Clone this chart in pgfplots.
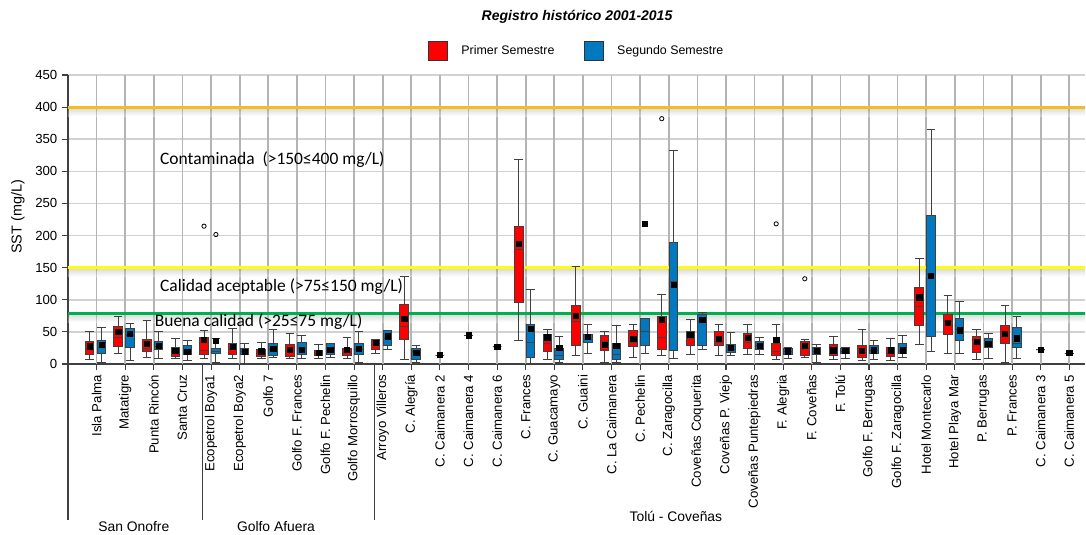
\documentclass[border=0pt]{standalone}
\usepackage{fontspec}
\setmainfont{Liberation Sans}
\newfontfamily\calibri{Carlito}
\usepackage{pgfplots}
\usepgfplotslibrary{statistics}
\pgfplotsset{compat=1.18}
\definecolor{cRed}{HTML}{FF0000}
\definecolor{cBlue}{HTML}{0079C1}
\definecolor{cOrange}{HTML}{F4BC1C}
\definecolor{cYellow}{HTML}{FFFF00}
\definecolor{cGreen}{HTML}{00B050}
\definecolor{cGrid}{HTML}{D2D2D2}
\definecolor{cVGrid}{HTML}{B4B4B4}

% pos, lower whisker, lower quartile, median, upper quartile, upper whisker, mean, colour
\newcommand{\bx}[8]{%
  \addplot[boxplot prepared={draw position=#1, lower whisker=#2, lower quartile=#3,
      median=#4, upper quartile=#5, upper whisker=#6, box extend=0.3, whisker extend=0.3},
    fill=#8, draw=black!75, line width=0.75pt, solid] coordinates {};
  \addplot[only marks, mark=square*, mark size=2pt, black] coordinates {(#1,#7)};
}
\newcommand{\fs}[1]{\fontsize{#1}{#1}\selectfont}

\begin{document}
\begin{tikzpicture}
\useasboundingbox (-51pt,-128.25pt) rectangle (763.5pt,273pt);
\begin{axis}[
  at={(0,0)}, anchor=south west,
  width=762.75pt, height=216.75pt, scale only axis,
  boxplot/draw direction=y,
  xmin=-1, xmax=34.55, ymin=0, ymax=450,
  ytick={0,50,...,450},
  xtick={0,...,34},
  xticklabels={Isla Palma, Matatigre, Punta Rincón, Santa Cruz,
    Ecopetrol Boya1, Ecopetrol Boya2, Golfo 7, Golfo F. Frances, Golfo F. Pechelin, Golfo Morrosquillo,
    Arroyo Villeros, C. Alegría, C. Caimanera 2, C. Caimanera 4, C. Caimanera 6, C. Frances,
    C. Guacamayo, C. Guaini, C. La Caimanera, C. Pechelin, C. Zaragocilla, Coveñas Coquerita,
    Coveñas P. Viejo, Coveñas Puntepiedras, F. Alegria, F. Coveñas, F. Tolú, Golfo F. Berrugas,
    Golfo F. Zaragocilla, Hotel Montecarlo, Hotel Playa Mar, P. Berrugas, P. Frances,
    C. Caimanera 3, C. Caimanera 5},
  x tick label style={rotate=90, anchor=east, font=\fs{9.9}},
  y tick label style={font=\fs{9.9}},
  /pgf/number format/assume math mode=true,
  ymajorgrids, grid style={cGrid, line width=1.1pt},
  axis x line*=bottom, axis y line*=left,
  axis line style={black!75, line width=1pt},
  tick style={black!75, line width=0.8pt},
  tick align=outside, major tick length=4.5pt,
  clip=false,
  legend columns=2,
  legend style={at={(axis description cs:0.5005,1.083)}, anchor=center, draw=none,
    fill=none, font=\fs{9.3},
    /tikz/every odd column/.append style={column sep=8pt},
    /tikz/every even column/.append style={column sep=20pt}},
]
\addlegendimage{legend image code/.code={\draw[fill=cRed, draw=black!80, line width=0.8pt] (0pt,-7.3pt) rectangle (14.3pt,7.3pt);}}
\addlegendimage{legend image code/.code={\draw[fill=cBlue, draw=black!80, line width=0.8pt] (0pt,-7.3pt) rectangle (14.3pt,7.3pt);}}
\legend{Primer Semestre, Segundo Semestre}

% vertical grid at every station, behind everything else
\pgfplotsinvokeforeach{0,...,34}{\draw[cVGrid, line width=1.3pt] (axis cs:#1,0) -- (axis cs:#1,450);}

% shadows under the reference lines
\shade[top color=black!45, bottom color=white, opacity=0.35] (axis cs:-1,400) rectangle (axis cs:34.55,386);
\shade[top color=black!45, bottom color=white, opacity=0.35] (axis cs:-1,150) rectangle (axis cs:34.55,136);
\shade[top color=black!45, bottom color=white, opacity=0.35] (axis cs:-1,79) rectangle (axis cs:34.55,65);
\addplot[cOrange, line width=2.3pt] coordinates {(-1,400) (34.55,400)};
\addplot[cYellow, line width=2.3pt] coordinates {(-1,150) (34.55,150)};
\addplot[cGreen, line width=2.3pt] coordinates {(-1,79) (34.55,79)};

\node[anchor=west, inner sep=0pt, font=\calibri\fs{13.1}] at (axis cs:2.21,318) {Contaminada\ \ (>150≤400 mg/L)};
\node[anchor=west, inner sep=0pt, font=\calibri\fs{13.1}] at (axis cs:2.21,120) {Calidad aceptable (>75≤150 mg/L)};
\node[anchor=west, inner sep=0pt, font=\calibri\fs{13.1}] at (axis cs:2.03,66) {Buena calidad (>25≤75 mg/L)};

% San Onofre
\bx{-0.245}{7.7}{14.5}{24}{35.2}{50.7}{27.4}{cRed}
\bx{0.17}{3}{16}{25}{36.8}{57}{30}{cBlue}
\bx{0.755}{17}{27.4}{42}{58.5}{73.3}{50.7}{cRed}
\bx{1.17}{5.1}{26.4}{45}{55.5}{63.8}{47.2}{cBlue}
\bx{1.755}{10.8}{19}{24.8}{38.8}{67.3}{31.6}{cRed}
\bx{2.17}{8.3}{22.3}{28}{35.2}{50.7}{28.5}{cBlue}
\bx{2.755}{8.3}{11.9}{17}{26.4}{40.4}{20.7}{cRed}
\bx{3.17}{5.1}{14.5}{20}{28.5}{36.3}{19}{cBlue}
% Golfo Afuera
\bx{3.755}{8.3}{14.5}{20.7}{42}{52.3}{37.8}{cRed}
\bx{4.17}{3}{16}{20}{24.3}{40.4}{36.3}{cBlue}
\bx{4.755}{8.3}{14.5}{22}{31.6}{56}{26.4}{cRed}
\bx{5.17}{1.5}{14.5}{19}{24.9}{32.6}{19}{cBlue}
\bx{5.755}{8.3}{11.9}{17}{22.3}{34.2}{19.6}{cRed}
\bx{6.17}{10.8}{14}{22}{32.6}{53.3}{23.3}{cBlue}
\bx{6.755}{8.3}{11.9}{20}{30}{47.1}{22.3}{cRed}
\bx{7.17}{9.3}{14.5}{24}{33.6}{44}{22.4}{cBlue}
\bx{7.755}{8.3}{12.9}{17}{21.2}{31}{18}{cRed}
\bx{8.17}{10.4}{14.5}{22}{32.6}{32.6}{22.4}{cBlue}
\bx{8.755}{8.3}{12.9}{18}{24.9}{42}{22.4}{cRed}
\bx{9.17}{2.5}{14.5}{22}{32.6}{50.7}{23.3}{cBlue}
% Tolu - Covenas
\bx{9.755}{17}{23.3}{30}{36.2}{38}{32.7}{cRed}
\bx{10.17}{23.3}{28.5}{40}{52.3}{52.3}{43}{cBlue}
\bx{10.755}{6.7}{38.8}{58.5}{92.7}{136.3}{70.5}{cRed}
\bx{11.17}{2.5}{7.7}{19.7}{23.8}{29}{17}{cBlue}
\bx{12}{14}{14}{14}{14}{14}{14}{black}
\bx{13}{45}{45}{45}{45}{45}{45}{black}
\bx{14}{27}{27}{27}{27}{27}{27}{black}
\bx{14.755}{36.3}{96.4}{178.8}{214.5}{318.8}{187.6}{cRed}
\bx{15.17}{0.5}{10.3}{34.2}{61.2}{116}{54.4}{cBlue}
\bx{15.755}{6.7}{18.7}{32.6}{46.6}{53.3}{41.4}{cRed}
\bx{16.17}{2.5}{6.7}{12.9}{24.9}{43}{24.9}{cBlue}
\bx{16.755}{12.9}{29.5}{66.3}{90.7}{152.5}{75.1}{cRed}
\bx{17.17}{16}{33.6}{38.8}{46}{62.1}{41.9}{cBlue}
\bx{17.755}{3}{21.2}{34.7}{45}{50.7}{30}{cRed}
\bx{18.17}{3}{7.7}{14.5}{31.6}{60}{28.5}{cBlue}
\bx{18.755}{10.8}{27.4}{33.6}{52.3}{62}{38.8}{cRed}
\bx{19.17}{16}{29.5}{51.3}{71}{71}{218}{cBlue}
\bx{19.755}{12.9}{23.3}{41}{74}{108.3}{68.9}{cRed}
\bx{20.17}{8.8}{20.7}{128}{188.7}{332}{123.4}{cBlue}
\bx{20.755}{14.5}{29.5}{39.9}{50.2}{70}{45.6}{cRed}
\bx{21.17}{23.3}{29.5}{66.3}{76.7}{80.3}{68.9}{cBlue}
\bx{21.755}{12.9}{28.5}{33.6}{50.2}{62}{38.8}{cRed}
\bx{22.17}{13}{18}{22}{30}{49.2}{24.8}{cBlue}
\bx{22.755}{14.5}{24.3}{33.6}{47.2}{62}{40.4}{cRed}
\bx{23.17}{14.5}{23.3}{29.5}{34.7}{42}{28.5}{cBlue}
\bx{23.755}{6.7}{12.9}{19}{32.6}{62}{37.8}{cRed}
\bx{24.17}{8.8}{15}{20}{24.3}{26.4}{19.7}{cBlue}
\bx{24.755}{10.3}{14}{24}{34.7}{38.9}{28.5}{cRed}
\bx{25.17}{3}{15.5}{20}{26.4}{31}{20.2}{cBlue}
\bx{25.755}{7.7}{13}{24}{30}{43.5}{21.2}{cRed}
\bx{26.17}{9.3}{16}{20}{24.3}{26.4}{20.2}{cBlue}
\bx{26.755}{5.1}{10.3}{18}{28.5}{53.3}{20.2}{cRed}
\bx{27.17}{7.7}{16}{21}{28.5}{36.2}{21.2}{cBlue}
\bx{27.755}{5.1}{11.9}{16}{26.4}{40.4}{21.2}{cRed}
\bx{28.17}{10.3}{16}{20}{31.6}{45}{21.2}{cBlue}
\bx{28.755}{31}{60.6}{89.6}{118.6}{164.3}{104.1}{cRed}
\bx{29.17}{19.7}{43}{140}{231.7}{364.9}{137.3}{cBlue}
\bx{29.755}{16}{46.6}{66}{76.3}{106.9}{63.8}{cRed}
\bx{30.17}{16}{37.3}{54.4}{70.4}{97.4}{52.3}{cBlue}
\bx{30.755}{6.7}{18.6}{32}{43}{53.3}{34.7}{cRed}
\bx{31.17}{9.3}{26.4}{33}{39.9}{48.2}{31.6}{cBlue}
\bx{31.755}{3}{31.6}{47}{59.6}{91.7}{47.2}{cRed}
\bx{32.17}{9.3}{26.4}{32.6}{57.5}{73.3}{39.9}{cBlue}
\bx{33}{22.2}{22.2}{22.2}{22.2}{22.2}{22.2}{black}
\bx{34}{17}{17}{17}{17}{17}{17}{black}

% outliers
\addplot[only marks, mark=o, mark size=1.6pt, black, line width=0.6pt] coordinates {
  (3.755,214.6) (4.17,201.6) (19.755,382) (23.755,218.2) (24.755,132.7)};

% group separators and names
\draw[black!75, line width=0.8pt] (axis cs:-1,0) -- ++(0pt,-117pt);
\draw[black!75, line width=0.8pt] (axis cs:3.7,0) -- ++(0pt,-117pt);
\draw[black!75, line width=0.8pt] (axis cs:9.7,0) -- ++(0pt,-117pt);
\node[font=\fs{10.4}, yshift=-122pt] at (axis cs:1.3,0) {San Onofre};
\node[font=\fs{10.4}, yshift=-122pt] at (axis cs:6.27,0) {Golfo Afuera};
\node[font=\fs{10.4}, yshift=-114pt] at (axis cs:20.25,0) {Tolú - Coveñas};

\node[rotate=90, font=\fs{10.8}] at (axis description cs:-0.0492,0.509) {SST (mg/L)};
\node[font=\bfseries\itshape\fs{10.5}] at (axis description cs:0.5005,1.2007) {Registro histórico 2001-2015};
\end{axis}
\end{tikzpicture}
\end{document}
